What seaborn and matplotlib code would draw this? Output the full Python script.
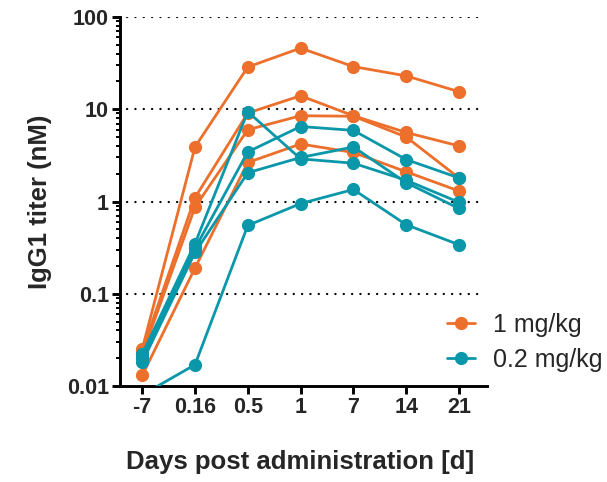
import numpy as np
import pandas as pd
import matplotlib
matplotlib.use('Agg')
import matplotlib.pyplot as plt
import seaborn as sns
from matplotlib.ticker import LogLocator, FixedLocator, NullFormatter

days = ['-7', '0.16', '0.5', '1', '7', '14', '21']

# 1 mg/kg animals
high_1 = [0.025, 3.9, 28.7, 46, 29, 23, 15.5]
high_2 = [0.024, 1.1, 9.1, 14, 8.5, 5.6, 4.0]
high_3 = [0.022, 0.87, 6.0, 8.5, 8.4, 5.0, 1.8]
high_4 = [0.013, 0.19, 2.65, 4.2, 3.4, 2.1, 1.3]

# 0.2 mg/kg animals
low_1 = [0.020, 0.31, 3.45, 6.5, 5.9, 2.85, 1.8]
low_2 = [0.022, 0.35, 9.4, 2.9, 2.6, 1.7, 0.98]
low_3 = [0.018, 0.28, 2.05, 3.0, 3.9, 1.6, 0.84]
low_4 = [0.008, 0.017, 0.55, 0.95, 1.35, 0.56, 0.34]

groups = {
    '1 mg/kg': [high_1, high_2, high_3, high_4],
    '0.2 mg/kg': [low_1, low_2, low_3, low_4],
}

rows = []
for dose, animals in groups.items():
    for k, vals in enumerate(animals):
        for i, v in enumerate(vals):
            rows.append({'pos': i, 'titer': v, 'dose': dose, 'animal': f'{dose}_{k}'})
df = pd.DataFrame(rows)

palette = {'1 mg/kg': '#EC6F2B', '0.2 mg/kg': '#0A97AA'}

sns.set_style('white')
plt.rcParams['font.family'] = ['Liberation Sans', 'DejaVu Sans']

fig = plt.figure(figsize=(6.07, 4.82), dpi=100)
ax = fig.add_axes([120 / 607, 1 - 386 / 482, 367 / 607, 369 / 482])

sns.lineplot(data=df, x='pos', y='titer', hue='dose', units='animal', estimator=None,
             palette=palette, marker='o', markersize=9.5, markeredgewidth=0,
             linewidth=2.0, ax=ax, legend=False, zorder=3)

ax.set_yscale('log')
ax.set_ylim(0.01, 100)
ax.set_xlim(-0.42, 6.53)

for v in [0.1, 1, 10, 100]:
    ax.axhline(v, color='black', linewidth=1.6, linestyle=(0, (0.1, 3.65)),
               dash_capstyle='round', zorder=1, xmin=0.02, xmax=0.985)

ax.set_xticks(range(len(days)))
ax.set_xticklabels(days, fontsize=15.5, fontweight='bold')
ax.yaxis.set_major_locator(FixedLocator([0.01, 0.1, 1, 10, 100]))
ax.set_yticklabels(['0.01', '0.1', '1', '10', '100'], fontsize=15.5, fontweight='bold')
ax.yaxis.set_minor_locator(LogLocator(base=10, subs=np.arange(2, 10)))
ax.yaxis.set_minor_formatter(NullFormatter())

ax.tick_params(axis='both', which='major', direction='out', length=6, width=2.1,
               color='black', pad=2, left=True, bottom=True)
ax.tick_params(axis='y', which='minor', direction='out', length=3.2, width=1.4,
               color='black', left=True)

for side in ['top', 'right']:
    ax.spines[side].set_visible(False)
for side in ['left', 'bottom']:
    ax.spines[side].set_linewidth(2.1)
    ax.spines[side].set_color('black')

ax.set_xlabel('Days post administration [d]', fontsize=18.5, fontweight='bold')
ax.set_ylabel('IgG1 titer (nM)', fontsize=18.5, fontweight='bold')
ax.xaxis.set_label_coords((300 - 120) / 367, -(462 - 386) / 369)
ax.yaxis.set_label_coords(-(120 - 40) / 367, 0.5)
ax.xaxis.label.set_va('center')
ax.yaxis.label.set_va('center')

handles = [plt.Line2D([], [], color=palette[d], marker='o', markersize=9.5,
                      markeredgewidth=0, linewidth=2.0) for d in palette]
fig.legend(handles, list(palette), loc='center left', frameon=False,
           bbox_to_anchor=(447 / 607, 1 - 342.5 / 482), fontsize=18,
           handlelength=1.12, labelspacing=0.45, handletextpad=0.72,
           borderpad=0, borderaxespad=0)

fig.savefig('out.png', dpi=100)
